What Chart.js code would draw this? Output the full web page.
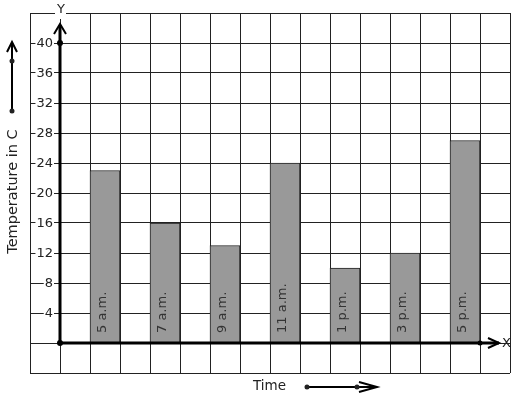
<!DOCTYPE html>
<html>
<head>
<meta charset="utf-8">
<script src="https://cdn.jsdelivr.net/npm/chart.js@4/dist/chart.umd.min.js"></script>
<style>
  html, body { margin: 0; padding: 0; background: #fff; }
  canvas { display: block; }
</style>
</head>
<body>
<canvas id="chart" width="517" height="399"></canvas>
<script>
// data
const times = ['5 a.m.', '7 a.m.', '9 a.m.', '11 a.m.', '1 p.m.', '3 p.m.', '5 p.m.'];
const temps = [23, 16, 13, 24, 10, 12, 27];
const yTicks = [4, 8, 12, 16, 20, 24, 28, 32, 36, 40];

const FONT = "'DejaVu Sans', Verdana, sans-serif";
const INK = '#222';

// bars sit in every other grid column, starting with the third one
const points = temps.map((t, i) => ({ x: 1.5 + 2 * i, y: t }));

function dot(ctx, x, y, r) {
    ctx.beginPath();
    ctx.arc(x, y, r, 0, Math.PI * 2);
    ctx.fill();
}

function chevron(ctx, ax, ay, bx, by, cx, cy) {
    ctx.beginPath();
    ctx.moveTo(ax, ay);
    ctx.lineTo(bx, by);
    ctx.lineTo(cx, cy);
    ctx.stroke();
}

const decorations = {
    id: 'decorations',
    afterDatasetsDraw(chart) {
        const ctx = chart.ctx;
        const xs = chart.scales.x;
        const ys = chart.scales.y;
        const ox = xs.getPixelForValue(0);
        const oy = ys.getPixelForValue(0);
        const top = chart.chartArea.top;

        ctx.save();

        // labels inside the bars
        ctx.fillStyle = '#333';
        ctx.font = '13px ' + FONT;
        ctx.textAlign = 'left';
        ctx.textBaseline = 'middle';
        points.forEach((p, i) => {
            ctx.save();
            ctx.translate(xs.getPixelForValue(p.x) - 2, oy - 10);
            ctx.rotate(-Math.PI / 2);
            ctx.fillText(times[i], 0, 0);
            ctx.restore();
        });

        // y tick labels with white backdrop
        ctx.font = '13px ' + FONT;
        ctx.textAlign = 'right';
        yTicks.forEach(v => {
            const y = ys.getPixelForValue(v);
            const w = ctx.measureText(String(v)).width;
            ctx.fillStyle = '#fff';
            ctx.fillRect(ox - 7 - w - 1, y - 6, w + 2, 12);
            ctx.fillStyle = INK;
            ctx.fillText(String(v), ox - 7, y + 1);
        });

        // axes
        ctx.strokeStyle = '#000';
        ctx.fillStyle = '#000';
        ctx.lineWidth = 3;
        ctx.beginPath();
        ctx.moveTo(ox, oy);
        ctx.lineTo(499, oy);
        ctx.moveTo(ox, oy);
        ctx.lineTo(ox, 25);
        ctx.stroke();
        ctx.lineWidth = 2;
        chevron(ctx, 488, oy - 5, 499, oy, 488, oy + 5);
        chevron(ctx, ox - 6, 34, ox, 24, ox + 6, 34);
        dot(ctx, ox, oy, 3);
        dot(ctx, ox, ys.getPixelForValue(40), 3);
        dot(ctx, xs.getPixelForValue(14), oy, 2.5);

        // axis letters
        ctx.font = '13px ' + FONT;
        ctx.textAlign = 'center';
        ctx.fillStyle = '#fff';
        ctx.fillRect(ox - 5, top - 8, 11, 14);
        ctx.fillStyle = INK;
        ctx.fillText('Y', ox + 1, top - 3);
        ctx.textAlign = 'left';
        ctx.fillText('X', 502, oy + 1);

        // axis titles
        ctx.font = '14.5px ' + FONT;
        ctx.save();
        ctx.translate(13, 191.5);
        ctx.rotate(-Math.PI / 2);
        ctx.textAlign = 'center';
        ctx.fillText('Temperature in C', 0, 0);
        ctx.restore();
        ctx.font = '13.5px ' + FONT;
        ctx.textAlign = 'left';
        ctx.fillText('Time', 253, 386);

        // direction arrows
        ctx.lineWidth = 2;
        ctx.beginPath();
        ctx.moveTo(12, 111);
        ctx.lineTo(12, 43);
        ctx.stroke();
        chevron(ctx, 7, 52, 12, 42, 17, 52);
        dot(ctx, 12, 61, 2.5);
        dot(ctx, 12, 111, 2.5);

        ctx.beginPath();
        ctx.moveTo(307, 387);
        ctx.lineTo(376, 387);
        ctx.stroke();
        chevron(ctx, 359, 382, 377, 387, 359, 392);
        dot(ctx, 307, 387, 2.5);
        dot(ctx, 357, 387, 2.5);

        ctx.restore();
    }
};

new Chart(document.getElementById('chart'), {
    type: 'bar',
    data: {
        datasets: [{
            data: points,
            backgroundColor: '#999999',
            borderColor: '#222',
            borderWidth: 1,
            barThickness: 30
        }]
    },
    options: {
        responsive: false,
        animation: false,
        layout: { padding: { left: 30, top: 13, right: 7, bottom: 26 } },
        plugins: { legend: { display: false }, tooltip: { enabled: false } },
        scales: {
            x: {
                type: 'linear',
                offset: false,
                min: -1,
                max: 15,
                ticks: { display: false, stepSize: 1 },
                grid: { color: '#222', lineWidth: 1, drawTicks: false, offset: false },
                border: { display: false }
            },
            y: {
                min: -4,
                max: 44,
                ticks: { display: false, stepSize: 4 },
                grid: { color: '#222', lineWidth: 1, drawTicks: false },
                border: { display: false }
            }
        }
    },
    plugins: [decorations]
});
</script>
</body>
</html>
